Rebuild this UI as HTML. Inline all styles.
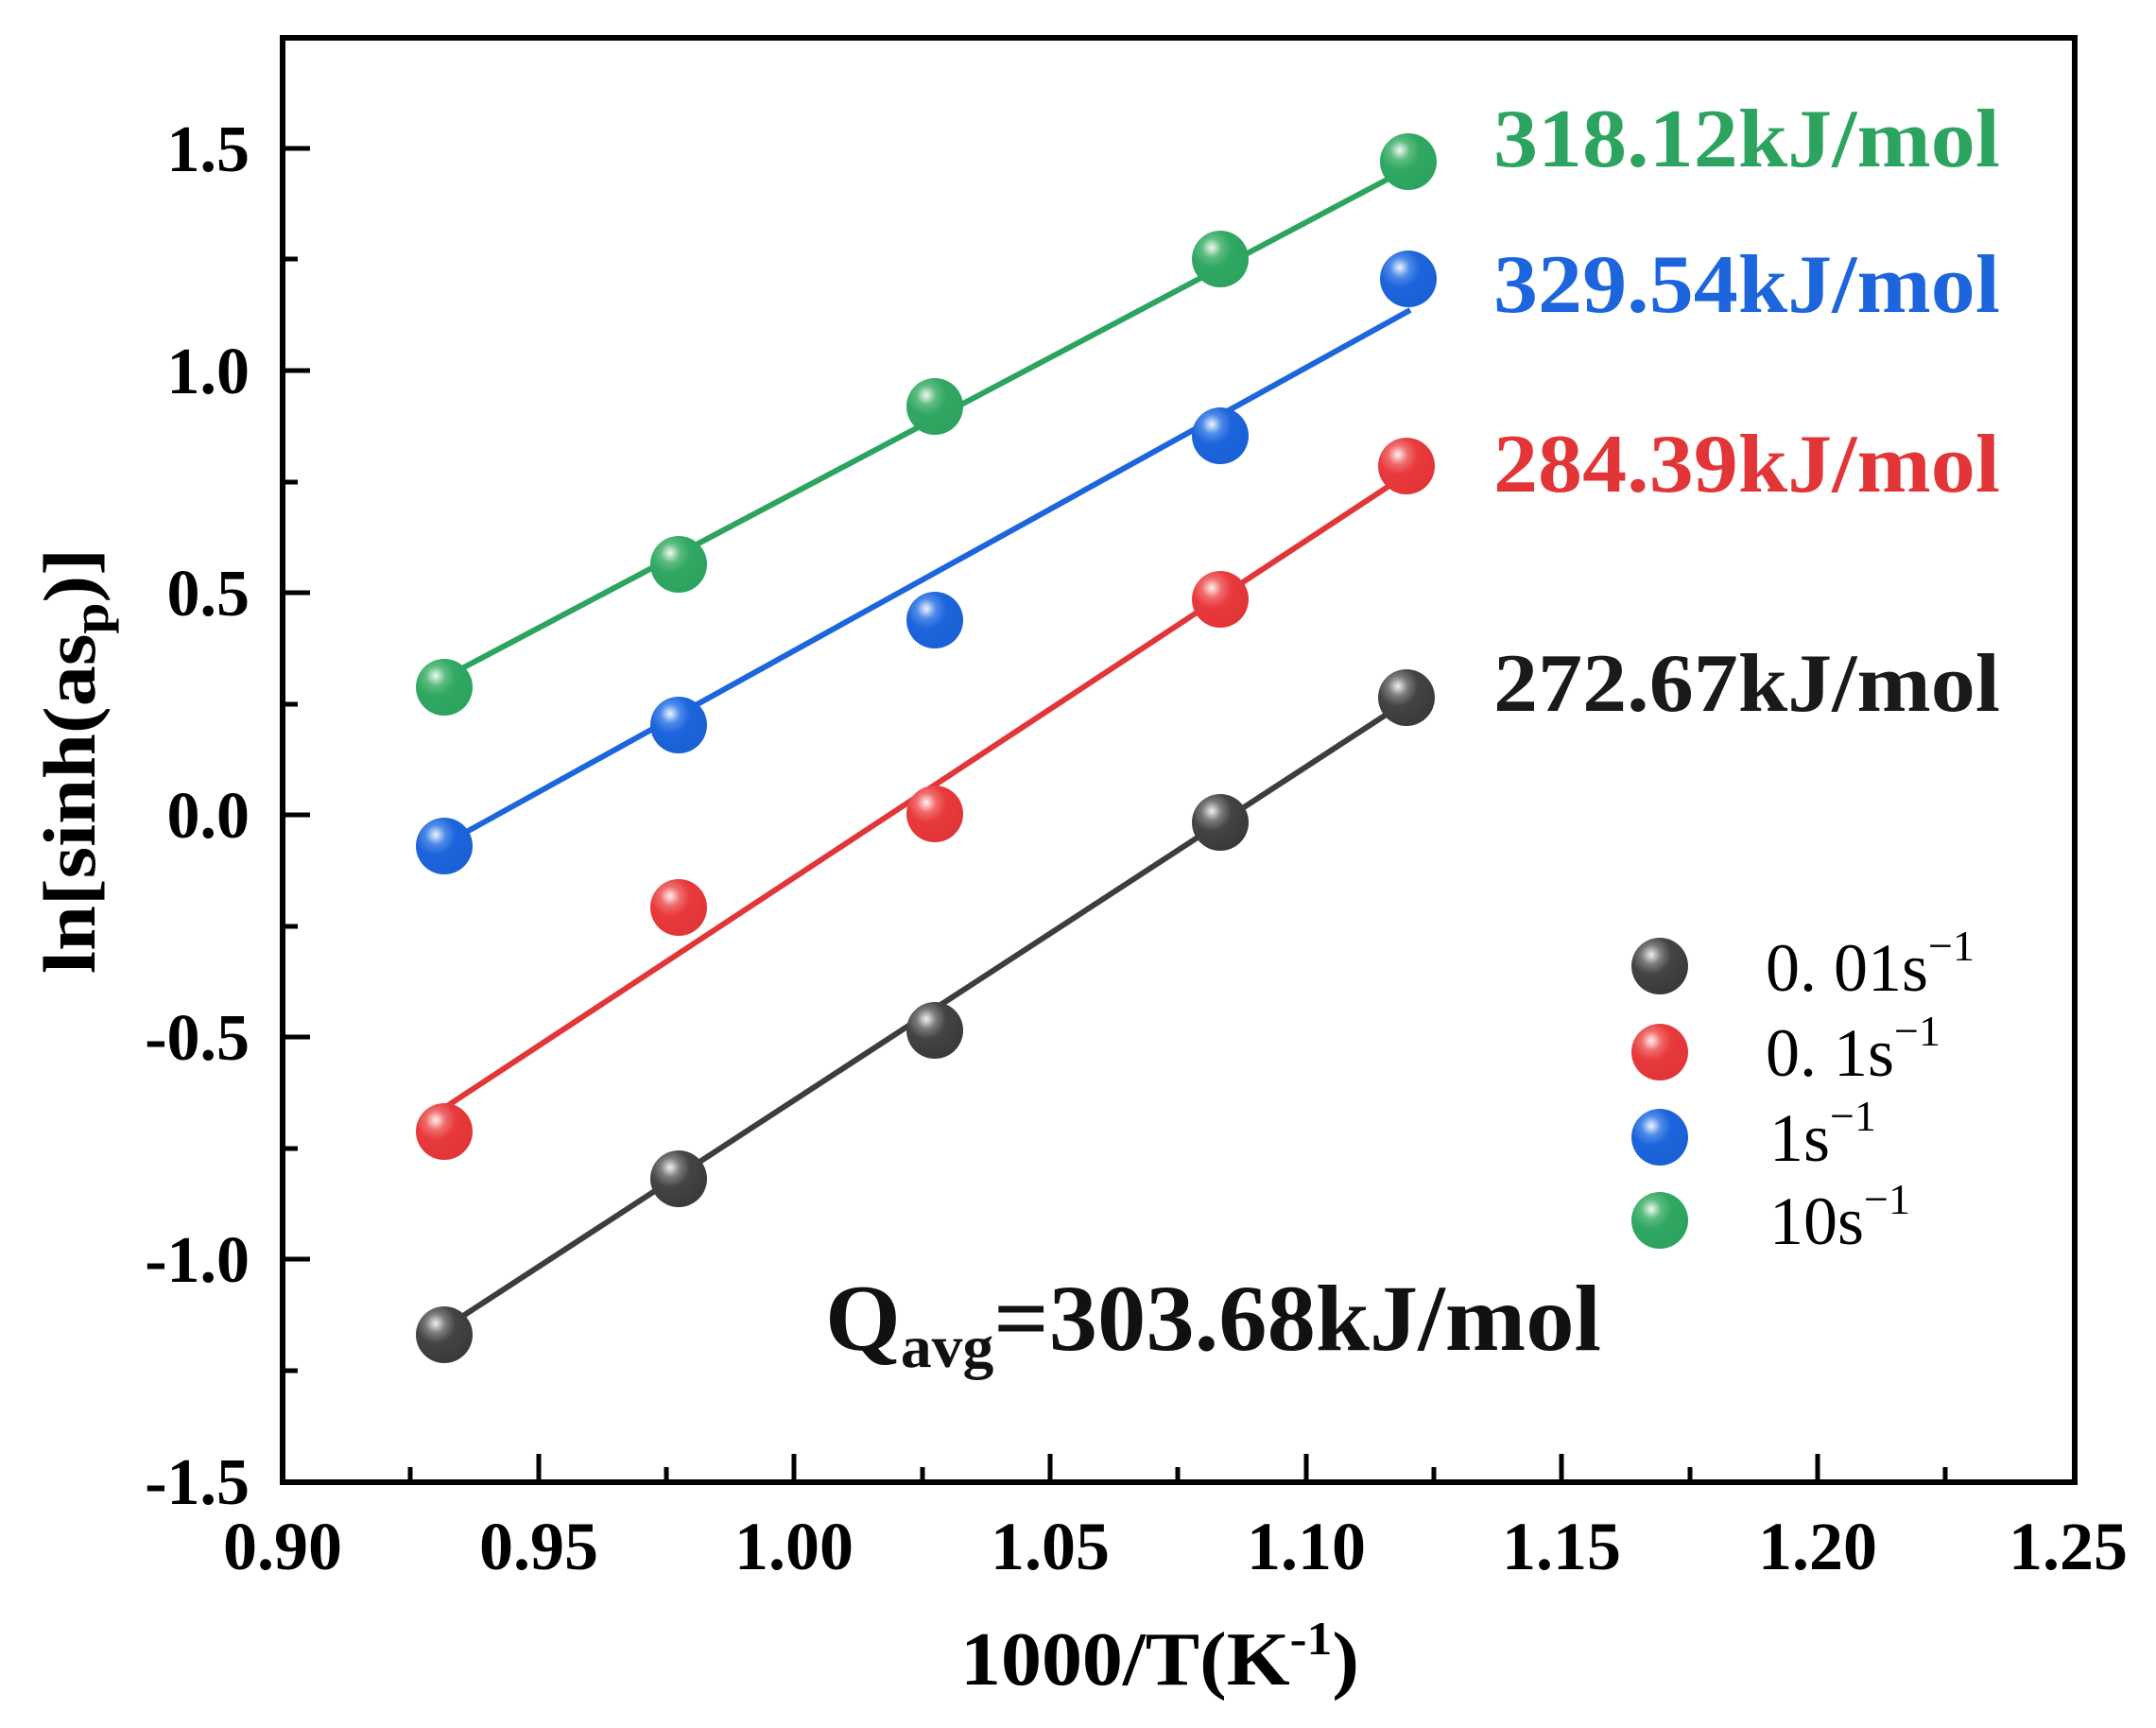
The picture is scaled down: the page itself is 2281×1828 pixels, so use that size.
<!DOCTYPE html>
<html><head><meta charset="utf-8"><style>html,body{margin:0;padding:0;background:#fff}svg{display:block}</style></head>
<body>
<svg width="2281" height="1828" viewBox="0 0 2281 1828" xmlns="http://www.w3.org/2000/svg">
<defs>
<radialGradient id="gk" cx="0.35" cy="0.3" r="0.7"><stop offset="0" stop-color="#f0f0f0"/><stop offset="0.25" stop-color="#7a7a7a"/><stop offset="0.5" stop-color="#444"/><stop offset="1" stop-color="#3a3a3a"/></radialGradient>
<radialGradient id="gr" cx="0.35" cy="0.3" r="0.7"><stop offset="0" stop-color="#fff0f0"/><stop offset="0.25" stop-color="#f06a6a"/><stop offset="0.5" stop-color="#e83a3c"/><stop offset="1" stop-color="#e23537"/></radialGradient>
<radialGradient id="gb" cx="0.35" cy="0.3" r="0.7"><stop offset="0" stop-color="#eef4ff"/><stop offset="0.25" stop-color="#4d8ae8"/><stop offset="0.5" stop-color="#1d65dc"/><stop offset="1" stop-color="#1a60d6"/></radialGradient>
<radialGradient id="gg" cx="0.35" cy="0.3" r="0.7"><stop offset="0" stop-color="#effaf2"/><stop offset="0.25" stop-color="#5dbb80"/><stop offset="0.5" stop-color="#30a864"/><stop offset="1" stop-color="#2ca460"/></radialGradient>
</defs>
<g font-family="Liberation Serif, serif" font-weight="bold">
<rect x="299" y="40" width="1896" height="1528" fill="none" stroke="#000" stroke-width="6"/>
<g stroke="#000" stroke-width="5">
<line x1="570" y1="1568" x2="570" y2="1538"/><line x1="840" y1="1568" x2="840" y2="1538"/><line x1="1111" y1="1568" x2="1111" y2="1538"/><line x1="1382" y1="1568" x2="1382" y2="1538"/><line x1="1652" y1="1568" x2="1652" y2="1538"/><line x1="1923" y1="1568" x2="1923" y2="1538"/>
<line x1="434" y1="1568" x2="434" y2="1552"/><line x1="705" y1="1568" x2="705" y2="1552"/><line x1="976" y1="1568" x2="976" y2="1552"/><line x1="1246" y1="1568" x2="1246" y2="1552"/><line x1="1517" y1="1568" x2="1517" y2="1552"/><line x1="1788" y1="1568" x2="1788" y2="1552"/><line x1="2058" y1="1568" x2="2058" y2="1552"/>
<line x1="299" y1="157" x2="328" y2="157"/><line x1="299" y1="392" x2="328" y2="392"/><line x1="299" y1="627" x2="328" y2="627"/><line x1="299" y1="862" x2="328" y2="862"/><line x1="299" y1="1097" x2="328" y2="1097"/><line x1="299" y1="1332" x2="328" y2="1332"/>
<line x1="299" y1="274" x2="315" y2="274"/><line x1="299" y1="510" x2="315" y2="510"/><line x1="299" y1="745" x2="315" y2="745"/><line x1="299" y1="980" x2="315" y2="980"/><line x1="299" y1="1215" x2="315" y2="1215"/><line x1="299" y1="1450" x2="315" y2="1450"/>
</g>
<g font-size="72" text-anchor="middle" fill="#000">
<text x="299" y="1660">0.90</text><text x="570" y="1660">0.95</text><text x="840" y="1660">1.00</text><text x="1111" y="1660">1.05</text><text x="1382" y="1660">1.10</text><text x="1652" y="1660">1.15</text><text x="1923" y="1660">1.20</text><text x="2188" y="1660">1.25</text>
</g>
<g font-size="70" text-anchor="end" fill="#000">
<text x="264" y="181">1.5</text><text x="264" y="416">1.0</text><text x="264" y="651">0.5</text><text x="264" y="886">0.0</text><text x="264" y="1121">-0.5</text><text x="264" y="1356">-1.0</text><text x="264" y="1591">-1.5</text>
</g>
<text x="1016" y="1782" font-size="80" textLength="422" lengthAdjust="spacingAndGlyphs">1000/T(K<tspan font-size="50" dy="-32">-1</tspan><tspan dy="32">)</tspan></text>
<text transform="translate(100,1030) rotate(-90)" font-size="78" textLength="450" lengthAdjust="spacingAndGlyphs">ln[sinh(as<tspan font-size="54" dy="14">p</tspan><tspan dy="-14">)]</tspan></text>
<g stroke-width="6">
<line x1="470" y1="1405" x2="1488" y2="742" stroke="#3d3d3d"/>
<line x1="470" y1="1172" x2="1488" y2="502" stroke="#e23537"/>
<line x1="470" y1="893" x2="1492" y2="328" stroke="#1d65dc"/>
<line x1="470" y1="717" x2="1490" y2="178" stroke="#2ca460"/>
</g>
<g>
<circle cx="470" cy="1412" r="30" fill="url(#gk)"/><circle cx="718" cy="1247" r="30" fill="url(#gk)"/><circle cx="989" cy="1090" r="30" fill="url(#gk)"/><circle cx="1291" cy="870" r="30" fill="url(#gk)"/><circle cx="1488" cy="738" r="30" fill="url(#gk)"/>
<circle cx="470" cy="1197" r="30" fill="url(#gr)"/><circle cx="718" cy="960" r="30" fill="url(#gr)"/><circle cx="989" cy="861" r="30" fill="url(#gr)"/><circle cx="1291" cy="634" r="30" fill="url(#gr)"/><circle cx="1488" cy="493" r="30" fill="url(#gr)"/>
<circle cx="470" cy="895" r="30" fill="url(#gb)"/><circle cx="718" cy="767" r="30" fill="url(#gb)"/><circle cx="989" cy="656" r="30" fill="url(#gb)"/><circle cx="1291" cy="461" r="30" fill="url(#gb)"/><circle cx="1490" cy="295" r="30" fill="url(#gb)"/>
<circle cx="470" cy="727" r="30" fill="url(#gg)"/><circle cx="718" cy="597" r="30" fill="url(#gg)"/><circle cx="989" cy="430" r="30" fill="url(#gg)"/><circle cx="1291" cy="274" r="30" fill="url(#gg)"/><circle cx="1490" cy="171" r="30" fill="url(#gg)"/>
</g>
<g font-size="88">
<text x="1580" y="176" fill="#2ca460" textLength="536" lengthAdjust="spacingAndGlyphs">318.12kJ/mol</text>
<text x="1580" y="330" fill="#1d65dc" textLength="536" lengthAdjust="spacingAndGlyphs">329.54kJ/mol</text>
<text x="1580" y="520" fill="#e23537" textLength="536" lengthAdjust="spacingAndGlyphs">284.39kJ/mol</text>
<text x="1580" y="752" fill="#1a1a1a" textLength="536" lengthAdjust="spacingAndGlyphs">272.67kJ/mol</text>
</g>
<text x="873" y="1428" font-size="100" fill="#111" textLength="821" lengthAdjust="spacingAndGlyphs">Q<tspan font-size="64" dy="18">avg</tspan><tspan dy="-18">=303.68kJ/mol</tspan></text>
<g>
<circle cx="1756" cy="1022" r="30" fill="url(#gk)"/>
<circle cx="1756" cy="1113" r="30" fill="url(#gr)"/>
<circle cx="1756" cy="1203" r="30" fill="url(#gb)"/>
<circle cx="1756" cy="1291" r="30" fill="url(#gg)"/>
</g>
<g font-size="72" font-weight="normal" fill="#000">
<text x="1868" y="1048">0. 01s<tspan font-size="46" dy="-32">−1</tspan></text>
<text x="1868" y="1138">0. 1s<tspan font-size="46" dy="-32">−1</tspan></text>
<text x="1872" y="1228">1s<tspan font-size="46" dy="-32">−1</tspan></text>
<text x="1872" y="1316">10s<tspan font-size="46" dy="-32">−1</tspan></text>
</g>
</g>
</svg>
</body></html>
